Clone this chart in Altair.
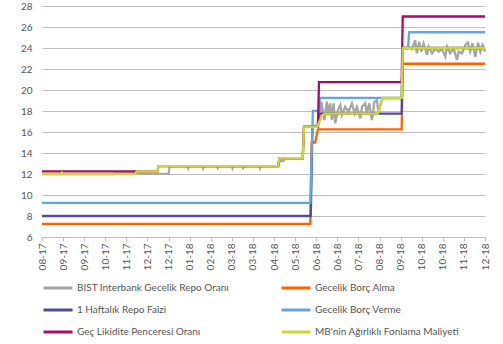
import altair as alt
import pandas as pd

# x tick labels (one tick per axis step)
tick_labels = ["08-17", "09-17", "09-17", "10-17", "11-17", "12-17", "12-17", "01-18",
               "02-18", "03-18", "03-18", "04-18", "05-18", "06-18", "06-18", "07-18",
               "08-18", "09-18", "10-18", "10-18", "11-18", "12-18"]

# drawing order (bottom to top)
series_names = ["BIST Interbank Gecelik Repo Oranı", "Gecelik Borç Alma",
                "1 Haftalık Repo Faizi", "Gecelik Borç Verme",
                "Geç Likidite Penceresi Oranı", "MB'nin Ağırlıklı Fonlama Maliyeti"]
series_colors = ["#A6A6A6", "#FF6200", "#4F4C9A", "#5FA8E2", "#AD0968", "#CDD731"]

# legend order (filled column by column)
legend_order = ["BIST Interbank Gecelik Repo Oranı", "1 Haftalık Repo Faizi",
                "Geç Likidite Penceresi Oranı", "Gecelik Borç Alma",
                "Gecelik Borç Verme", "MB'nin Ağırlıklı Fonlama Maliyeti"]

# positions are in tick-steps along the x axis (0 = 08-17 ... 21 = 12-18)
bist_t = [0, 3.4, 3.45, 4.42, 4.48, 6.0, 6.05, 6.9, 6.93, 6.96, 7.6, 7.63, 7.66, 8.3, 8.33, 8.36,
          9.0, 9.03, 9.06, 9.5, 9.53, 9.56, 10.3, 10.33, 10.36, 11.2, 11.25, 11.45, 11.5, 12.36,
          12.42, 13.1, 13.2,
          13.24, 13.39, 13.50, 13.58, 13.66, 13.74, 13.82, 13.90, 14.03, 14.14, 14.22, 14.37,
          14.53, 14.69, 14.82, 14.93, 15.09, 15.17, 15.32, 15.40, 15.51, 15.64, 15.76, 15.88,
          15.95, 16.05, 16.15, 17.05, 17.1, 17.30, 17.38, 17.54,
          17.69, 17.77, 17.88, 17.98, 18.09, 18.25, 18.33, 18.49, 18.64, 18.80, 18.96, 19.12,
          19.20, 19.35, 19.51, 19.67, 19.75, 19.91, 20.07, 20.19, 20.30, 20.41, 20.54, 20.67,
          20.78, 20.89, 21.0]
bist_v = [12.0, 12.0, 12.15, 12.15, 12.02, 12.02, 12.72, 12.72, 12.55, 12.72, 12.72, 12.55, 12.72,
          12.72, 12.58, 12.72, 12.72, 12.55, 12.72, 12.72, 12.58, 12.72, 12.72, 12.55, 12.72, 12.72,
          13.2, 13.25, 13.5, 13.5, 16.5, 16.6, 17.9,
          18.89, 17.14, 18.89, 17.78, 18.73, 17.14, 18.73, 16.82, 18.10, 18.57, 17.62, 18.41,
          17.94, 18.73, 17.78, 18.41, 17.30, 18.41, 18.73, 17.78, 18.73, 17.14, 18.89, 19.05,
          17.78, 18.6, 19.2, 19.2, 24.0, 24.0, 24.1, 23.9,
          24.76, 23.49, 24.60, 23.65, 24.44, 23.33, 24.13, 23.49, 23.97, 23.65, 23.87, 23.17,
          24.13, 23.49, 23.97, 22.86, 23.65, 23.49, 24.29, 24.51, 23.65, 24.44, 23.17, 24.51,
          23.65, 24.29, 23.65]

alma_t = [0, 12.72, 12.78, 12.95, 13.08, 17.05, 17.1, 21]
alma_v = [7.25, 7.25, 15.0, 15.0, 16.25, 16.25, 22.5, 22.5]

haftalik_t = [0, 12.74, 12.82, 13.07, 13.12, 17.05, 17.1, 21]
haftalik_v = [8.0, 8.0, 16.5, 16.5, 17.75, 17.75, 24.0, 24.0]

verme_t = [0, 12.72, 12.84, 13.12, 13.17, 17.05, 17.1, 17.35, 17.4, 21]
verme_v = [9.25, 9.25, 18.0, 18.0, 19.25, 19.25, 24.0, 24.0, 25.5, 25.5]

gec_t = [0, 5.47, 5.52, 11.2, 11.25, 12.36, 12.42, 13.08, 13.13, 17.05, 17.1, 21]
gec_v = [12.25, 12.25, 12.75, 12.75, 13.5, 13.5, 16.5, 16.5, 20.75, 20.75, 27.0, 27.0]

mb_t = [0, 0.92, 0.95, 0.98, 4.42, 4.48, 5.47, 5.52, 11.2, 11.25, 12.36, 12.42, 13.05, 13.15,
        13.3, 13.4, 15.92, 16.0, 16.1, 16.15, 17.05, 17.1, 21]
mb_v = [12.0, 12.0, 12.12, 12.0, 12.0, 12.25, 12.25, 12.75, 12.75, 13.5, 13.5, 16.5, 16.5, 17.0,
        17.6, 17.75, 17.75, 18.3, 19.1, 19.25, 19.25, 24.0, 24.0]

all_series = [(bist_t, bist_v), (alma_t, alma_v), (haftalik_t, haftalik_v),
              (verme_t, verme_v), (gec_t, gec_v), (mb_t, mb_v)]

rows = []
for name, (ts, vs) in zip(series_names, all_series):
    for i, (t, v) in enumerate(zip(ts, vs)):
        rows.append({"s": name, "t": t, "v": v, "i": i})
df = pd.DataFrame(rows)

color_of = dict(zip(series_names, series_colors))
legend_colors = [color_of[n] for n in legend_order]

FONT = "Lato"
TXT = "#555555"
GRID = "#BFBFBF"

label_expr = "[" + ",".join("'" + l + "'" for l in tick_labels) + "][datum.value]"

x_enc = alt.X("t:Q", scale=alt.Scale(domain=[0, 21], nice=False, zero=False),
              axis=alt.Axis(values=list(range(len(tick_labels))), labelExpr=label_expr,
                            labelAngle=-90, grid=False, ticks=True, tickSize=4,
                            tickColor=GRID, domainColor=GRID, labelFontSize=10,
                            labelColor=TXT, labelFont=FONT, labelPadding=2, title=None,
                            labelOverlap=False))
y_enc = alt.Y("v:Q", scale=alt.Scale(domain=[6, 28], nice=False, zero=False),
              axis=alt.Axis(values=list(range(6, 29, 2)), grid=True, gridColor=GRID,
                            domain=False, ticks=False, labelPadding=10, labelFontSize=10,
                            labelColor=TXT, labelFont=FONT, title=None))
color_enc = alt.Color("s:N", scale=alt.Scale(domain=legend_order, range=legend_colors),
                      legend=alt.Legend(orient="none", legendX=0, legendY=266, columns=2,
                                        columnPadding=45, rowPadding=-9, symbolType="stroke",
                                        symbolSize=841, symbolStrokeWidth=3, labelFontSize=10,
                                        labelFont=FONT, labelColor=TXT, title=None,
                                        labelLimit=300, padding=0, labelOffset=3))

layers = []
for name in series_names:
    layers.append(
        alt.Chart(df).transform_filter(alt.datum.s == name)
        .mark_line(strokeWidth=2.3, strokeCap="butt")
        .encode(x=x_enc, y=y_enc, color=color_enc, order="i:Q")
    )

chart = alt.layer(*layers).properties(
    width=443, height=231,
    autosize=alt.AutoSizeParams(type="none"),
    padding={"left": 42, "top": 6, "right": 18, "bottom": 107},
).configure_view(stroke=None)

chart.save("out.html", embed_options={"renderer": "svg", "actions": False})
